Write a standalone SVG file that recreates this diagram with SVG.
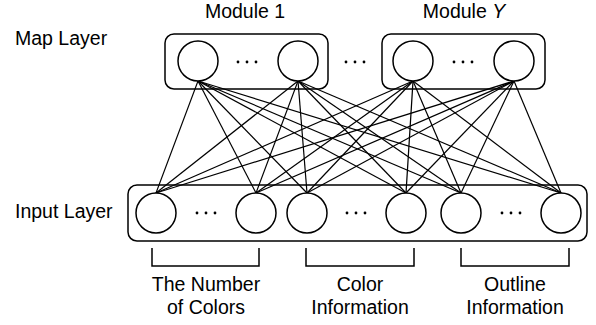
<svg xmlns="http://www.w3.org/2000/svg" width="596" height="325" viewBox="0 0 596 325">
<style>
.box{fill:none;stroke:#000;stroke-width:1.5}
.n{fill:#fff;stroke:#000;stroke-width:1.5}
.c line{stroke:#000;stroke-width:1.2}
.b{fill:none;stroke:#000;stroke-width:1.5}
text{font-family:"Liberation Sans",Arial,sans-serif;font-size:19.5px;fill:#000}
.m{text-anchor:middle}
.dot{fill:#000}
</style>
<rect width="596" height="325" fill="#fff"/>
<text x="15" y="45">Map Layer</text>
<text x="15" y="218">Input Layer</text>
<text class="m" x="245" y="18">Module 1</text>
<text class="m" x="464" y="18">Module <tspan font-style="italic">Y</tspan></text>
<g id="connectors" class="c">
<line x1="198" y1="81" x2="156" y2="193"/><line x1="198" y1="81" x2="256" y2="193"/><line x1="198" y1="81" x2="307" y2="193"/><line x1="198" y1="81" x2="406" y2="193"/><line x1="198" y1="81" x2="461" y2="193"/><line x1="198" y1="81" x2="561" y2="193"/>
<line x1="298" y1="81" x2="156" y2="193"/><line x1="298" y1="81" x2="256" y2="193"/><line x1="298" y1="81" x2="307" y2="193"/><line x1="298" y1="81" x2="406" y2="193"/><line x1="298" y1="81" x2="461" y2="193"/><line x1="298" y1="81" x2="561" y2="193"/>
<line x1="413" y1="81" x2="156" y2="193"/><line x1="413" y1="81" x2="256" y2="193"/><line x1="413" y1="81" x2="307" y2="193"/><line x1="413" y1="81" x2="406" y2="193"/><line x1="413" y1="81" x2="461" y2="193"/><line x1="413" y1="81" x2="561" y2="193"/>
<line x1="514" y1="81" x2="156" y2="193"/><line x1="514" y1="81" x2="256" y2="193"/><line x1="514" y1="81" x2="307" y2="193"/><line x1="514" y1="81" x2="406" y2="193"/><line x1="514" y1="81" x2="461" y2="193"/><line x1="514" y1="81" x2="561" y2="193"/>
</g>
<g id="module1">
<rect class="box" x="165" y="34" width="163" height="55" rx="9"/>
<circle class="n" cx="198" cy="61" r="20"/>
<circle class="n" cx="298" cy="61" r="20"/>
<circle class="dot" cx="238" cy="62" r="1.4"/><circle class="dot" cx="247" cy="62" r="1.4"/><circle class="dot" cx="256" cy="62" r="1.4"/>
</g>
<g id="moduleY">
<rect class="box" x="382" y="34" width="163" height="55" rx="9"/>
<circle class="n" cx="413" cy="61" r="20"/>
<circle class="n" cx="514" cy="61" r="20"/>
<circle class="dot" cx="454" cy="62" r="1.4"/><circle class="dot" cx="463" cy="62" r="1.4"/><circle class="dot" cx="472" cy="62" r="1.4"/>
</g>
<g id="between-dots">
<circle class="dot" cx="346" cy="62" r="1.4"/><circle class="dot" cx="355" cy="62" r="1.4"/><circle class="dot" cx="364" cy="62" r="1.4"/>
</g>
<g id="input">
<rect class="box" x="128" y="185" width="459" height="56" rx="9"/>
<circle class="n" cx="156" cy="213" r="20"/>
<circle class="n" cx="256" cy="213" r="20"/>
<circle class="n" cx="307" cy="213" r="20"/>
<circle class="n" cx="406" cy="213" r="20"/>
<circle class="n" cx="461" cy="213" r="20"/>
<circle class="n" cx="561" cy="213" r="20"/>
<circle class="dot" cx="197" cy="213" r="1.4"/><circle class="dot" cx="206" cy="213" r="1.4"/><circle class="dot" cx="215" cy="213" r="1.4"/>
<circle class="dot" cx="347" cy="213" r="1.4"/><circle class="dot" cx="356" cy="213" r="1.4"/><circle class="dot" cx="365" cy="213" r="1.4"/>
<circle class="dot" cx="502" cy="213" r="1.4"/><circle class="dot" cx="511" cy="213" r="1.4"/><circle class="dot" cx="520" cy="213" r="1.4"/>
</g>
<g id="groups">
<path class="b" d="M152 248V266H259V248"/>
<path class="b" d="M306 248V266H414V248"/>
<path class="b" d="M461 248V266H569V248"/>
<text class="m" x="206" y="291">The Number</text>
<text class="m" x="206" y="314">of Colors</text>
<text class="m" x="360" y="291">Color</text>
<text class="m" x="360" y="314">Information</text>
<text class="m" x="515" y="291">Outline</text>
<text class="m" x="515" y="314">Information</text>
</g>
</svg>
